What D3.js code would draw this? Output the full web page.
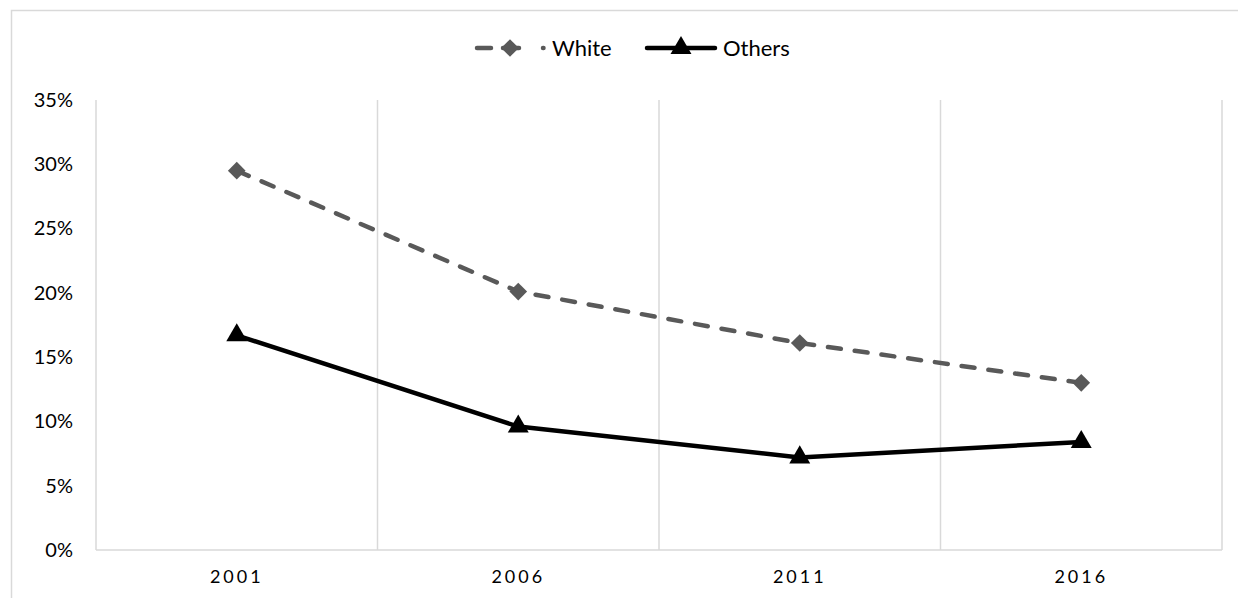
<!DOCTYPE html>
<html>
<head>
<meta charset="utf-8">
<script src="https://cdn.jsdelivr.net/npm/d3@7"></script>
<style>
  body { margin: 0; background: #fff; }
  svg { display: block; font-family: Lato, "Noto Sans", sans-serif; font-weight: 400; }
</style>
</head>
<body>
<svg id="chart" width="1238" height="598"></svg>
<script>
// chart data
const years = ["2001", "2006", "2011", "2016"];
const whiteValues = [29.5, 20.1, 16.1, 13.0];
const otherValues = [16.7, 9.6, 7.2, 8.4];
const yTicks = [0, 5, 10, 15, 20, 25, 30, 35];

const width = 1238, height = 598;
const margin = {top: 100, right: 16, bottom: 48, left: 96};
const gridColor = '#d9d9d9';
const whiteColor = '#595959';
const otherColor = '#000000';

const svg = d3.select('#chart');

// outer chart border
svg.append('rect')
    .attr('x', 11.5)
    .attr('y', 10.5)
    .attr('width', width)
    .attr('height', height)
    .attr('fill', 'none')
    .attr('stroke', gridColor)
    .attr('stroke-width', 1.5);

const x = d3.scaleBand()
    .domain(years)
    .range([margin.left, width - margin.right]);

const y = d3.scaleLinear()
    .domain([0, 35])
    .range([height - margin.bottom, margin.top]);

// vertical gridlines on category boundaries
const bounds = years.map(d => x(d)).concat([x.range()[1]]);
svg.append('g')
    .selectAll('line')
    .data(bounds)
    .enter()
    .append('line')
    .attr('x1', d => d)
    .attr('x2', d => d)
    .attr('y1', y(35))
    .attr('y2', y(0))
    .attr('stroke', gridColor)
    .attr('stroke-width', 1.5);

// x axis baseline
svg.append('line')
    .attr('x1', x.range()[0])
    .attr('x2', x.range()[1])
    .attr('y1', y(0))
    .attr('y2', y(0))
    .attr('stroke', gridColor)
    .attr('stroke-width', 1.5);

// y tick labels
const yAxis = d3.axisLeft(y)
    .tickValues(yTicks)
    .tickFormat(d => d + '%')
    .tickSize(0)
    .tickPadding(23);

svg.append('g')
    .attr('transform', `translate(${margin.left},0)`)
    .call(yAxis)
    .call(g => g.select('.domain').remove())
    .selectAll('text')
    .attr('font-family', 'Lato, "Noto Sans", sans-serif')
    .attr('font-size', 20)
    .attr('fill', '#000');

// x tick labels
const xAxis = d3.axisBottom(x)
    .tickSize(0)
    .tickPadding(20);

svg.append('g')
    .attr('transform', `translate(0,${y(0)})`)
    .call(xAxis)
    .call(g => g.select('.domain').remove())
    .selectAll('text')
    .attr('font-family', 'Lato, "Noto Sans", sans-serif')
    .attr('font-size', 18)
    .attr('letter-spacing', '3px')
    .attr('fill', '#000');

const cx = d => x(d) + x.bandwidth() / 2;

const line = d3.line()
    .x(d => cx(d.year))
    .y(d => y(d.value));

const whiteData = years.map((yr, i) => ({year: yr, value: whiteValues[i]}));
const otherData = years.map((yr, i) => ({year: yr, value: otherValues[i]}));

// White series - dashed grey with diamonds
svg.append('path')
    .datum(whiteData)
    .attr('d', line)
    .attr('fill', 'none')
    .attr('stroke', whiteColor)
    .attr('stroke-width', 4.5)
    .attr('stroke-linecap', 'round')
    .attr('stroke-dasharray', '13 14');

const diamond = d3.symbol().type(d3.symbolDiamond2).size(200);
const triangle = d3.symbol().type(d3.symbolTriangle).size(190);

svg.append('g')
    .selectAll('path')
    .data(whiteData)
    .enter()
    .append('path')
    .attr('d', diamond)
    .attr('transform', d => `translate(${cx(d.year)},${y(d.value)})`)
    .attr('fill', whiteColor);

// Others series - solid black with triangles
svg.append('path')
    .datum(otherData)
    .attr('d', line)
    .attr('fill', 'none')
    .attr('stroke', otherColor)
    .attr('stroke-width', 4.5)
    .attr('stroke-linejoin', 'round');

svg.append('g')
    .selectAll('path')
    .data(otherData)
    .enter()
    .append('path')
    .attr('d', triangle)
    .attr('transform', d => `translate(${cx(d.year)},${y(d.value)})`)
    .attr('fill', otherColor);

// legend
const legend = svg.append('g').attr('transform', 'translate(0,48)');

legend.append('line')
    .attr('x1', 477).attr('x2', 545)
    .attr('stroke', whiteColor)
    .attr('stroke-width', 4.5)
    .attr('stroke-linecap', 'round')
    .attr('stroke-dasharray', '14 12 16 24 0.5 100');
legend.append('path')
    .attr('d', diamond)
    .attr('transform', 'translate(510,0)')
    .attr('fill', whiteColor);
legend.append('text')
    .attr('x', 552).attr('y', 8)
    .attr('font-size', 22)
    .text('White');

legend.append('line')
    .attr('x1', 647).attr('x2', 715)
    .attr('stroke', otherColor)
    .attr('stroke-width', 4.5)
    .attr('stroke-linecap', 'round');
legend.append('path')
    .attr('d', triangle)
    .attr('transform', 'translate(681,0)')
    .attr('fill', otherColor);
legend.append('text')
    .attr('x', 723).attr('y', 8)
    .attr('font-size', 22)
    .text('Others');
</script>
</body>
</html>
